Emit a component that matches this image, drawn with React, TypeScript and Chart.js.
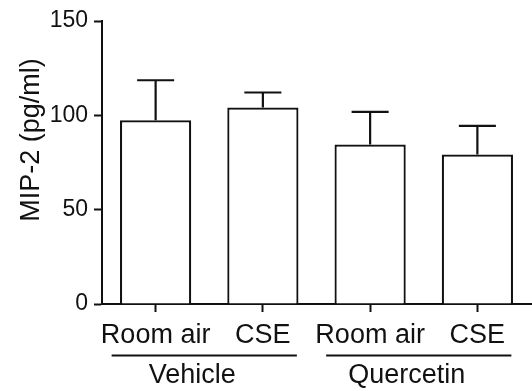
import React, { useEffect, useRef } from "react";
import { Chart, registerables } from "chart.js";

Chart.register(...registerables);

const categories = ["Room air", "CSE", "Room air", "CSE"];
const means = [97.4, 104.1, 84.5, 79.2];
const upperErrors = [118.6, 112.1, 101.8, 94.4];
const yTicks = [0, 50, 100, 150];
const groupLabels = ["Vehicle", "Quercetin"];
const groupStart = [0, 2];
const groupEnd = [1, 3];
const yTitle = "MIP-2 (pg/ml)";

const FONT = "'Liberation Sans', Arial, Helvetica, sans-serif";

const errorBarPlugin = {
  id: "errorBars",
  afterDatasetsDraw(chart: any) {
    const ctx = chart.ctx;
    const meta = chart.getDatasetMeta(0);
    const y = chart.scales.y;
    ctx.save();
    ctx.strokeStyle = "#111";
    ctx.lineWidth = 2.2;
    meta.data.forEach((bar: any, i: number) => {
      const x = bar.x;
      const top = y.getPixelForValue(upperErrors[i]);
      const base = y.getPixelForValue(means[i]);
      const half = bar.width * 0.26;
      ctx.beginPath();
      ctx.moveTo(x, base);
      ctx.lineTo(x, top);
      ctx.moveTo(x - half, top);
      ctx.lineTo(x + half, top);
      ctx.stroke();
    });
    ctx.restore();
  },
  afterDraw(chart: any) {
    const ctx = chart.ctx;
    const xs = chart.scales.x;
    ctx.save();
    ctx.strokeStyle = "#111";
    ctx.fillStyle = "#111";
    ctx.lineWidth = 2.2;
    ctx.font = `27px ${FONT}`;
    ctx.textAlign = "center";
    ctx.textBaseline = "alphabetic";
    groupLabels.forEach((label, g) => {
      const x0 = xs.getPixelForValue(groupStart[g]);
      const x1 = xs.getPixelForValue(groupEnd[g]);
      const left = x0 - 44;
      const right = x1 + 34;
      ctx.beginPath();
      ctx.moveTo(left, 355.5);
      ctx.lineTo(right, 355.5);
      ctx.stroke();
      ctx.fillText(label, (left + right) / 2 - 12, 382.5);
    });
    ctx.translate(39, 140);
    ctx.rotate(-Math.PI / 2);
    ctx.textAlign = "center";
    ctx.fillText(yTitle, 0, 0);
    ctx.restore();
  },
};

export default function App() {
  const ref = useRef<HTMLCanvasElement | null>(null);
  useEffect(() => {
    document.body.style.margin = "0";
    const canvas = ref.current;
    if (!canvas) return;
    const chart = new Chart(canvas, {
      type: "bar",
      data: {
        labels: categories,
        datasets: [
          {
            data: means,
            backgroundColor: "#ffffff",
            borderColor: "#111",
            borderWidth: 2.2,
            barPercentage: 0.664,
            categoryPercentage: 1,
          },
        ],
      },
      options: {
        responsive: false,
        animation: false,
        layout: { padding: { top: 21, right: 1, left: 0, bottom: 0 } },
        plugins: {
          legend: { display: false },
          tooltip: { enabled: false },
          title: { display: false },
        },
        scales: {
          x: {
            offset: true,
            grid: {
              offset: false,
              display: true,
              drawOnChartArea: false,
              drawTicks: true,
              tickLength: 8,
              tickWidth: 2,
              tickColor: "#111",
            },
            border: { display: true, color: "#111", width: 2 },
            ticks: {
              color: "#111",
              font: { family: FONT, size: 27 },
              padding: 7,
              maxRotation: 0,
              autoSkip: false,
            },
            afterFit(scale: any) {
              scale.height = 87;
            },
          },
          y: {
            min: 0,
            max: 150,
            afterBuildTicks(scale: any) {
              scale.ticks = yTicks.map((v) => ({ value: v }));
            },
            grid: {
              display: true,
              drawOnChartArea: false,
              drawTicks: true,
              tickLength: 8,
              tickWidth: 2,
              tickColor: "#111",
            },
            border: { display: true, color: "#111", width: 2 },
            ticks: {
              color: "#111",
              font: { family: FONT, size: 23 },
              padding: 6,
            },
            afterFit(scale: any) {
              scale.width = 102;
            },
          },
        },
      },
      plugins: [errorBarPlugin],
    } as any);
    return () => chart.destroy();
  }, []);
  return (
    <div style={{ width: 532, height: 391 }}>
      <canvas ref={ref} width={532} height={391} style={{ display: "block" }} />
    </div>
  );
}
